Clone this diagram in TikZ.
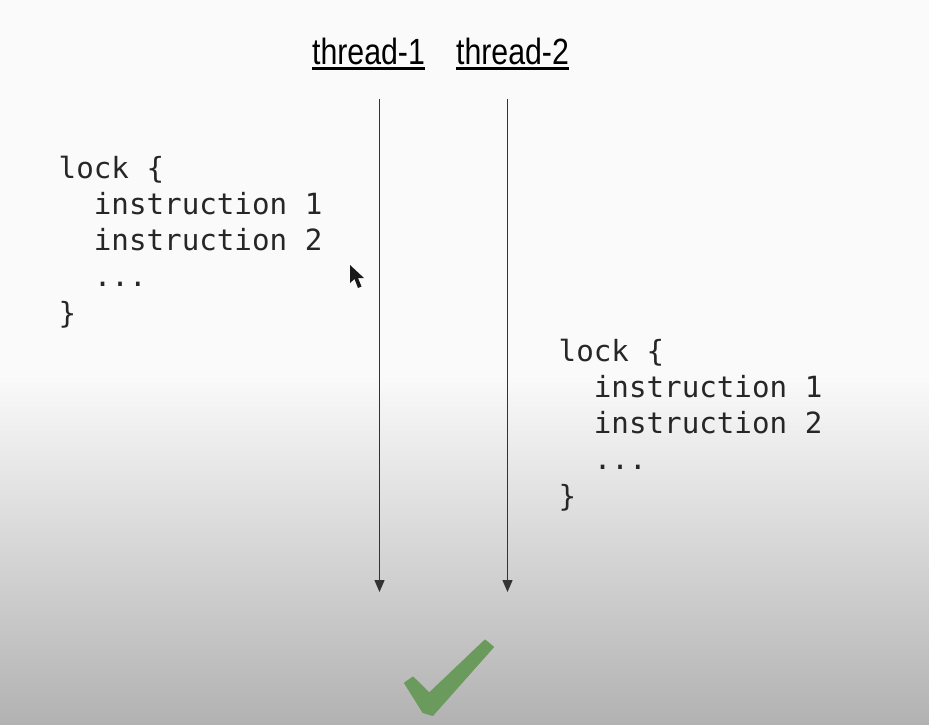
\documentclass[tikz,border=0pt]{standalone}
\usepackage{fontspec}
\usepackage{amsmath}
\setsansfont[FakeStretch=0.83]{Liberation Sans}
\setmonofont{DejaVu Sans Mono}
\usepackage{tikz}
\usetikzlibrary{arrows.meta,positioning}
\definecolor{paper}{HTML}{FAFAFA}
\definecolor{shadebottom}{HTML}{B2B2B2}
\definecolor{tickgreen}{HTML}{6A9A5C}
\definecolor{wire}{HTML}{333333}
\newcommand{\threadtitle}[1]{\setbox0\hbox{#1}\rlap{\rule[-5.6pt]{\wd0}{2.6pt}}\box0}

\begin{document}
\begin{tikzpicture}[x=1pt,y=-1pt,
  threadlabel/.style={inner sep=0pt,anchor=base,font=\sffamily\fontsize{36.5}{40}\selectfont},
  lockcode/.style={inner sep=0pt,align=left,anchor=north west,text=black!85,font=\ttfamily\fontsize{29.2}{36.3}\selectfont},
  timeline/.style={draw=wire,line width=1.4pt,-{Triangle[length=12pt,width=10pt]}}]
\useasboundingbox (0,0) rectangle (929,724);
\fill[paper] (0,0) rectangle (929,375);
\shade[top color=paper,bottom color=shadebottom] (0,375) rectangle (929,724);
\node[threadlabel] (t1) at (368.5,64) {\threadtitle{thread-1}};
\node[threadlabel] (t2) at (512.5,64) {\threadtitle{thread-2}};
\coordinate (s1) at (379.5,99);
\coordinate (e1) at (379.5,592);
\coordinate (s2) at (507.5,99);
\coordinate (e2) at (507.5,592);
\draw[timeline] (s1) to (e1);
\draw[timeline] (s2) to (e2);
\node[lockcode] (lock1) at (58.5,155.5) {lock \{\\\ \ instruction 1\\\ \ instruction 2\\\ \ ...\\\}};
\node[lockcode] (lock2) at (558.5,338.5) {lock \{\\\ \ instruction 1\\\ \ instruction 2\\\ \ ...\\\}};
% mouse pointer
\fill[black!90] (350,265) -- (350,283) -- (354.5,279) -- (358,288) -- (361.5,286.5) -- (358,278) -- (364,278) -- cycle;
% tick
\filldraw[fill=tickgreen,draw=tickgreen,line width=1pt,line join=round] (485,640) -- (493.5,647) -- (432.7,715.5) -- (423,712.5) -- (404.5,683) -- (413,677) -- (429.3,693) -- cycle;
\end{tikzpicture}
\end{document}
